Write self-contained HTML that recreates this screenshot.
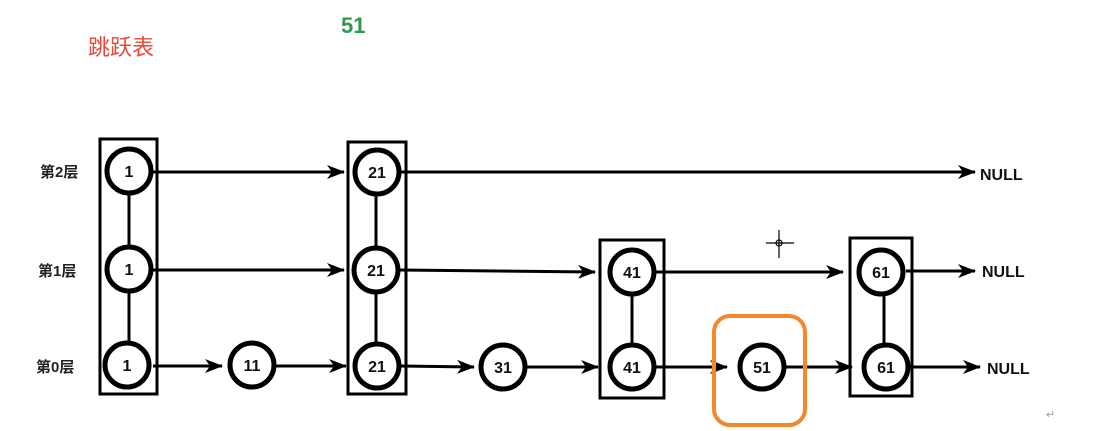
<!DOCTYPE html>
<html><head><meta charset="utf-8"><style>
html,body{margin:0;padding:0;background:#fff;width:1104px;height:431px;overflow:hidden}
svg text{font-family:"Liberation Sans","Noto Sans CJK SC",sans-serif}
</style></head><body>
<svg width="1104" height="431" viewBox="0 0 1104 431" xmlns="http://www.w3.org/2000/svg">
<defs><marker id="a" markerWidth="10" markerHeight="10" refX="9" refY="5" orient="auto" markerUnits="userSpaceOnUse"><path d="M0,0 L16,5 L0,10 L4,5z" transform="scale(0.9,1)" fill="#000"/></marker>
<marker id="b" viewBox="0 0 18 14" markerWidth="18" markerHeight="14" refX="17" refY="7" orient="auto" markerUnits="userSpaceOnUse"><path d="M0,0 L18,7 L0,14 L5,7z" fill="#000"/></marker></defs>
<text x="88" y="55" font-size="22" fill="#e8483c">跳跃表</text>
<text x="341" y="33" font-size="22" font-weight="bold" fill="#2f9a4a">51</text>
<g font-size="15" font-weight="bold" fill="#222">
<text x="40" y="177">第2层</text><text x="38" y="276">第1层</text><text x="36" y="372">第0层</text></g>
<g fill="none" stroke="#000" stroke-width="3">
<rect x="100" y="139" width="57" height="255"/>
<rect x="348" y="142" width="58" height="252"/>
<rect x="600" y="240" width="64" height="158"/>
<rect x="850" y="238" width="62" height="158"/>
<line x1="129" y1="171" x2="129" y2="365"/>
<line x1="376" y1="171" x2="376" y2="365"/>
<line x1="632" y1="272" x2="632" y2="367"/>
<line x1="884" y1="271" x2="884" y2="367"/>
</g>
<g stroke="#000" stroke-width="3" marker-end="url(#b)">
<line x1="153" y1="172" x2="344" y2="172"/>
<line x1="400" y1="172" x2="975" y2="172"/>
<line x1="153" y1="270" x2="344" y2="270"/>
<line x1="400" y1="270" x2="595" y2="272"/>
<line x1="656" y1="272" x2="843" y2="272"/>
<line x1="906" y1="271" x2="975" y2="271"/>
<line x1="153" y1="366" x2="222" y2="366"/>
<line x1="276" y1="366" x2="346" y2="366"/>
<line x1="400" y1="366" x2="474" y2="367"/>
<line x1="527" y1="367" x2="598" y2="367"/>
<line x1="656" y1="367" x2="727" y2="367"/>
<line x1="786" y1="367" x2="852" y2="367"/>
<line x1="910" y1="367" x2="980" y2="367"/>
</g>
<rect x="714" y="316" width="91" height="109" rx="16" fill="none" stroke="#f5862a" stroke-width="4"/>
<g fill="#fff" stroke="#000" stroke-width="5">
<circle cx="129" cy="171" r="22"/><circle cx="129" cy="269" r="22"/><circle cx="127" cy="365" r="22"/>
<circle cx="252" cy="365" r="22"/>
<circle cx="377" cy="172" r="22"/><circle cx="376" cy="270" r="22"/><circle cx="377" cy="366" r="22"/>
<circle cx="503" cy="367" r="22"/>
<circle cx="632" cy="272" r="22"/><circle cx="632" cy="367" r="22"/>
<circle cx="762" cy="367" r="22"/>
<circle cx="881" cy="272" r="22"/><circle cx="886" cy="367" r="22"/>
</g>
<g font-size="16" font-weight="bold" text-anchor="middle" fill="#111">
<text x="129" y="177">1</text><text x="129" y="275">1</text><text x="127" y="371">1</text>
<text x="252" y="371">11</text>
<text x="377" y="178">21</text><text x="376" y="276">21</text><text x="377" y="372">21</text>
<text x="503" y="373">31</text>
<text x="632" y="278">41</text><text x="632" y="373">41</text>
<text x="762" y="373">51</text>
<text x="881" y="278">61</text><text x="886" y="373">61</text>
</g>
<g font-size="16" font-weight="bold" fill="#111">
<text x="980" y="180">NULL</text><text x="982" y="277">NULL</text><text x="987" y="374">NULL</text></g>
<g stroke="#000" stroke-width="1.2" fill="none">
<line x1="766" y1="243" x2="794" y2="243"/><line x1="779" y1="230" x2="779" y2="258"/><circle cx="779" cy="243" r="3"/></g>
<text x="1046" y="418" font-size="11" fill="#999">↵</text>
</svg>
</body></html>
